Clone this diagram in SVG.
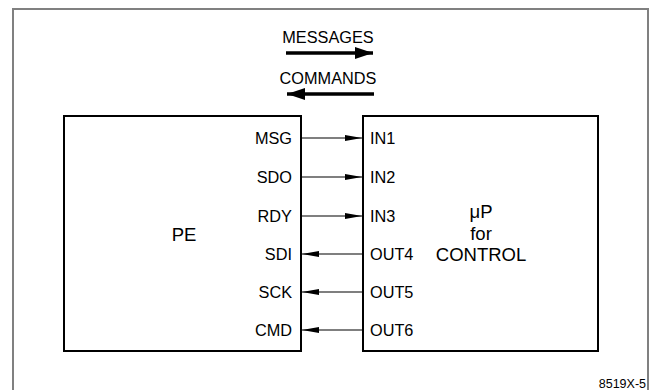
<svg xmlns="http://www.w3.org/2000/svg" width="652" height="390" viewBox="0 0 652 390">
<defs>
<style>
text{font-family:"Liberation Sans",Arial,sans-serif;fill:#000}
.lbl{font-size:16.3px}
.big{font-size:18.5px}
.box{fill:#fff;stroke:#000;stroke-width:2}
.sig{stroke:#000;stroke-width:1.2;fill:none}
.bus{stroke:#000;stroke-width:3.5;fill:none}
</style>
<marker id="ah" viewBox="0 0 17 6" refX="17" refY="3" markerWidth="17" markerHeight="6" markerUnits="userSpaceOnUse" orient="auto">
<path d="M0,0 L17,3 L0,6 Z" fill="#000"/>
</marker>
<marker id="bh" viewBox="0 0 18 12" refX="18" refY="6" markerWidth="18" markerHeight="12" markerUnits="userSpaceOnUse" orient="auto">
<path d="M0,0 L18,6 L0,12 Z" fill="#000"/>
</marker>
</defs>
<rect width="652" height="390" fill="#fff"/>
<path d="M13,390 V9 H648 V390" fill="none" stroke="#808080" stroke-width="2"/>
<g id="legend">
<text class="lbl" x="328" y="43" text-anchor="middle">MESSAGES</text>
<line class="bus" x1="286" y1="53" x2="373" y2="53" marker-end="url(#bh)"/>
<text class="lbl" x="328" y="84" text-anchor="middle">COMMANDS</text>
<line class="bus" x1="374" y1="94" x2="287" y2="94" marker-end="url(#bh)"/>
</g>
<g id="pe">
<rect class="box" x="64" y="116" width="237" height="235"/>
<text class="big" x="184" y="241" text-anchor="middle">PE</text>
<text class="lbl" x="292" y="144" text-anchor="end">MSG</text>
<text class="lbl" x="292" y="183" text-anchor="end">SDO</text>
<text class="lbl" x="292" y="222" text-anchor="end">RDY</text>
<text class="lbl" x="292" y="260" text-anchor="end">SDI</text>
<text class="lbl" x="292" y="298" text-anchor="end">SCK</text>
<text class="lbl" x="292" y="336" text-anchor="end">CMD</text>
</g>
<g id="up">
<rect class="box" x="363" y="116" width="235" height="235"/>
<text class="big" x="481" y="218" text-anchor="middle">μP</text>
<text class="big" x="481" y="240" text-anchor="middle">for</text>
<text class="big" x="481" y="261" text-anchor="middle">CONTROL</text>
<text class="lbl" x="370" y="144">IN1</text>
<text class="lbl" x="370" y="183">IN2</text>
<text class="lbl" x="370" y="222">IN3</text>
<text class="lbl" x="370" y="260">OUT4</text>
<text class="lbl" x="370" y="298">OUT5</text>
<text class="lbl" x="370" y="336">OUT6</text>
</g>
<g id="connectors">
<line class="sig" x1="301" y1="138" x2="362" y2="138" marker-end="url(#ah)"/>
<line class="sig" x1="301" y1="177" x2="362" y2="177" marker-end="url(#ah)"/>
<line class="sig" x1="301" y1="216" x2="362" y2="216" marker-end="url(#ah)"/>
<line class="sig" x1="362" y1="254" x2="302" y2="254" marker-end="url(#ah)"/>
<line class="sig" x1="362" y1="292" x2="302" y2="292" marker-end="url(#ah)"/>
<line class="sig" x1="362" y1="330" x2="302" y2="330" marker-end="url(#ah)"/>
</g>
<text x="646" y="388" text-anchor="end" font-size="12.5">8519X-5</text>
</svg>
